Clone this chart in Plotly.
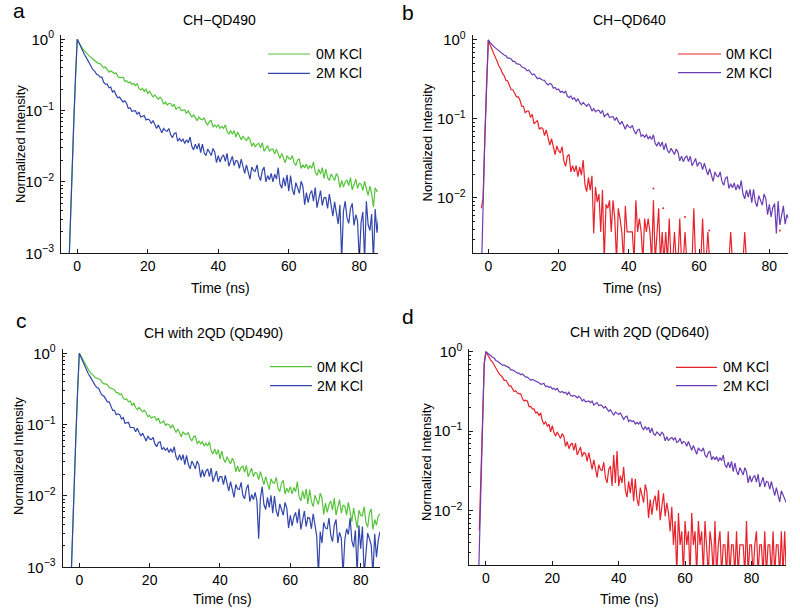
import numpy as np
import plotly.graph_objects as go

# acquisition time bins (ns); panel d was recorded on a slightly longer window
time_abc = np.arange(-4.5, 85.51, 0.5)
time_d = np.arange(-5.0, 90.51, 0.5)

# decay curves, stored as log10(normalized intensity)
# None = no counts in the bin
a_0m_log = [
    None, None, None, None, -3.4, -2.6, -1.9, -1.2, -0.55, 0.0,
    -0.05, -0.10, -0.13, -0.16, -0.19, -0.21, -0.24, -0.26, -0.28, -0.30,
    -0.31, -0.34, -0.34, -0.37, -0.40, -0.39, -0.42, -0.46, -0.44, -0.46,
    -0.48, -0.47, -0.52, -0.54, -0.53, -0.53, -0.59, -0.58, -0.61, -0.60,
    -0.63, -0.62, -0.65, -0.62, -0.69, -0.71, -0.69, -0.73, -0.70, -0.76,
    -0.73, -0.78, -0.81, -0.78, -0.81, -0.84, -0.81, -0.84, -0.91, -0.88,
    -0.92, -0.90, -0.90, -0.94, -0.91, -0.98, -0.96, -0.95, -1.00, -0.99,
    -0.99, -1.04, -1.00, -1.05, -1.09, -1.06, -1.10, -1.14, -1.09, -1.12,
    -1.13, -1.10, -1.17, -1.20, -1.15, -1.14, -1.23, -1.20, -1.23, -1.20,
    -1.25, -1.22, -1.25, -1.20, -1.29, -1.33, -1.28, -1.33, -1.28, -1.37,
    -1.30, -1.37, -1.41, -1.36, -1.39, -1.42, -1.37, -1.40, -1.50, -1.45,
    -1.51, -1.47, -1.46, -1.52, -1.45, -1.57, -1.53, -1.49, -1.57, -1.54,
    -1.54, -1.61, -1.54, -1.60, -1.67, -1.60, -1.67, -1.73, -1.63, -1.67,
    -1.68, -1.63, -1.73, -1.77, -1.69, -1.68, -1.81, -1.76, -1.80, -1.75,
    -1.82, -1.77, -1.81, -1.72, -1.86, -1.91, -1.82, -1.89, -1.80, -1.95,
    -1.82, -1.94, -1.98, -1.89, -1.93, -1.98, -1.88, -1.93, -2.08, -1.98,
    -2.07, -2.00, -1.97, -2.05, -1.94, -2.11, -2.04, -1.96, -2.09, -2.02,
    -2.03, -2.12, -1.99, -2.09, -2.19, -2.06, -2.16, -2.35, -2.08, -2.13,
    -2.12,
]
a_2m_log = [
    None, None, None, None, -3.4, -2.6, -1.9, -1.2, -0.55, 0.0,
    -0.05, -0.11, -0.15, -0.21, -0.25, -0.30, -0.35, -0.38, -0.43, -0.45,
    -0.49, -0.50, -0.53, -0.53, -0.60, -0.63, -0.63, -0.68, -0.67, -0.74,
    -0.72, -0.78, -0.82, -0.81, -0.84, -0.88, -0.86, -0.90, -0.97, -0.96,
    -1.01, -1.00, -1.00, -1.05, -1.02, -1.09, -1.08, -1.07, -1.13, -1.12,
    -1.13, -1.18, -1.14, -1.19, -1.25, -1.20, -1.26, -1.31, -1.25, -1.28,
    -1.29, -1.25, -1.34, -1.38, -1.32, -1.31, -1.43, -1.39, -1.43, -1.40,
    -1.46, -1.41, -1.45, -1.37, -1.50, -1.55, -1.47, -1.54, -1.46, -1.59,
    -1.47, -1.59, -1.63, -1.54, -1.58, -1.63, -1.53, -1.58, -1.73, -1.63,
    -1.72, -1.65, -1.62, -1.71, -1.60, -1.78, -1.71, -1.64, -1.77, -1.70,
    -1.71, -1.81, -1.68, -1.78, -1.88, -1.76, -1.86, -1.96, -1.79, -1.84,
    -1.85, -1.76, -1.92, -1.98, -1.84, -1.79, -2.00, -1.91, -1.97, -1.88,
    -2.00, -1.89, -1.96, -1.80, -2.03, -2.09, -1.94, -2.06, -1.90, -2.13,
    -1.91, -2.10, -2.18, -2.01, -2.08, -2.16, -1.99, -2.06, -2.32, -2.15,
    -2.29, -2.17, -2.12, -2.27, -2.08, -2.36, -2.24, -2.12, -2.33, -2.22,
    -2.22, -2.37, -2.17, -2.33, -2.48, -2.28, -2.43, -2.59, -2.32, -3.10,
    -2.41, -2.27, -2.50, -2.58, -2.37, -2.30, -2.61, -2.46, -2.55, -3.10,
    -2.57, -2.42, -3.10, -2.27, -2.60, -2.68, -2.45, -3.10, -2.38, -2.71,
    -2.48,
]
b_0m_log = [
    None, None, None, None, None, -2.13, -2.0, -1.25, -0.55, 0.0,
    -0.06, -0.12, -0.18, -0.22, -0.27, -0.33, -0.36, -0.42, -0.45, -0.51,
    -0.52, -0.59, -0.63, -0.63, -0.67, -0.72, -0.72, -0.76, -0.84, -0.84,
    -0.92, -0.90, -0.90, -0.98, -0.94, -1.06, -1.04, -1.02, -1.13, -1.11,
    -1.12, -1.21, -1.14, -1.23, -1.33, -1.25, -1.35, -1.45, -1.34, -1.40,
    -1.43, -1.35, -1.53, -1.60, -1.47, -1.45, -1.67, -1.59, -1.67, -1.59,
    -1.73, -1.61, -1.71, -1.52, -1.83, -1.92, -1.74, -1.90, -1.72, -2.45,
    -1.86, -2.05, -1.95, -2.43, -1.90, -2.80, -2.08, -2.13, -2.03, -2.43,
    -2.03, -2.26, -2.80, -2.13, -2.26, -2.43, -2.80, -2.10, -2.43, -2.43,
    -2.43, -2.43, -2.80, -2.03, -2.43, -2.26, -2.43, -2.80, -2.26, -2.43,
    -2.26, -2.43, -2.80, -2.03, -2.80, -2.43, -2.13, -2.80, -2.43, -2.80,
    -2.43, -2.80, -2.26, -2.80, -2.80, -2.43, -2.80, -2.80, -2.26, -2.80,
    -2.80, -2.43, -2.80, -2.80, -2.80, -2.80, -2.13, -2.80, -2.80, -2.80,
    -2.80, -2.26, -2.80, -2.80, -2.43, -2.80, -2.80, -2.80, -2.80, -2.80,
    -2.80, -2.80, -2.80, -2.80, -2.80, -2.80, -2.80, -2.43, -2.80, -2.80,
    -2.80, -2.80, -2.80, -2.80, -2.80, -2.43, -2.80, -2.80, -2.80, -2.80,
    -2.80, -2.80, -2.80, -2.80, -2.80, -2.80, -2.80, -2.80, -2.80, -2.80,
    -2.80, -2.80, -2.80, -2.80, -2.80, -2.80, -2.80, -2.80, -2.80, -2.80,
    -2.80,
]
b_2m_log = [
    None, None, None, None, None, -3.0, -2.0, -1.25, -0.55, 0.0,
    -0.03, -0.06, -0.08, -0.10, -0.12, -0.14, -0.15, -0.17, -0.19, -0.20,
    -0.23, -0.23, -0.24, -0.27, -0.27, -0.30, -0.31, -0.31, -0.34, -0.35,
    -0.36, -0.39, -0.38, -0.41, -0.44, -0.43, -0.46, -0.49, -0.48, -0.50,
    -0.51, -0.51, -0.55, -0.57, -0.55, -0.56, -0.61, -0.60, -0.63, -0.62,
    -0.66, -0.65, -0.67, -0.65, -0.71, -0.73, -0.71, -0.75, -0.73, -0.78,
    -0.74, -0.79, -0.82, -0.79, -0.81, -0.84, -0.81, -0.84, -0.90, -0.87,
    -0.91, -0.89, -0.89, -0.93, -0.89, -0.97, -0.95, -0.93, -0.98, -0.97,
    -0.97, -1.02, -0.98, -1.03, -1.07, -1.03, -1.08, -1.13, -1.07, -1.10,
    -1.11, -1.08, -1.15, -1.19, -1.14, -1.13, -1.22, -1.20, -1.23, -1.20,
    -1.25, -1.22, -1.26, -1.20, -1.31, -1.34, -1.29, -1.35, -1.29, -1.39,
    -1.31, -1.40, -1.43, -1.37, -1.41, -1.45, -1.38, -1.42, -1.53, -1.47,
    -1.54, -1.49, -1.47, -1.54, -1.47, -1.59, -1.55, -1.50, -1.60, -1.55,
    -1.56, -1.64, -1.56, -1.63, -1.71, -1.63, -1.71, -1.79, -1.67, -1.72,
    -1.73, -1.67, -1.79, -1.84, -1.75, -1.73, -1.88, -1.82, -1.87, -1.81,
    -1.90, -1.83, -1.89, -1.78, -1.95, -2.01, -1.90, -1.99, -1.89, -2.06,
    -1.89, -2.05, -2.11, -1.97, -2.03, -2.09, -1.95, -2.01, -2.21, -2.08,
    -2.24, -2.12, -2.07, -2.45, -2.04, -2.34, -2.22, -2.10, -2.33, -2.21,
    -2.26,
]
# single-bin points of the 0M curve in panel b (drawn as dots)
b_0m_dots_t = [47.0, 49.8, 56.0, 62.9, 83.0]
b_0m_dots_log = [-1.88, -2.13, -2.24, -2.41, -2.41]

c_0m_log = [
    None, None, None, None, -3.4, -2.6, -1.9, -1.2, -0.55, 0.0,
    -0.04, -0.09, -0.14, -0.18, -0.22, -0.26, -0.28, -0.31, -0.34, -0.35,
    -0.37, -0.37, -0.41, -0.43, -0.43, -0.44, -0.48, -0.49, -0.51, -0.51,
    -0.55, -0.55, -0.58, -0.57, -0.63, -0.65, -0.64, -0.68, -0.67, -0.73,
    -0.70, -0.76, -0.79, -0.76, -0.79, -0.82, -0.80, -0.83, -0.89, -0.87,
    -0.91, -0.89, -0.89, -0.94, -0.91, -0.98, -0.97, -0.95, -1.01, -0.99,
    -1.00, -1.05, -1.00, -1.06, -1.11, -1.06, -1.11, -1.17, -1.10, -1.13,
    -1.14, -1.11, -1.19, -1.23, -1.17, -1.16, -1.27, -1.23, -1.27, -1.24,
    -1.30, -1.26, -1.30, -1.24, -1.37, -1.41, -1.34, -1.42, -1.35, -1.48,
    -1.37, -1.48, -1.53, -1.45, -1.50, -1.55, -1.47, -1.52, -1.66, -1.58,
    -1.66, -1.60, -1.58, -1.67, -1.57, -1.73, -1.67, -1.61, -1.73, -1.67,
    -1.68, -1.77, -1.66, -1.75, -1.84, -1.73, -1.82, -1.91, -1.76, -1.81,
    -1.82, -1.74, -1.89, -1.94, -1.82, -1.78, -1.97, -1.89, -1.95, -1.87,
    -1.97, -1.88, -1.94, -1.80, -2.01, -2.07, -1.93, -2.04, -1.90, -2.11,
    -1.91, -2.08, -2.15, -1.99, -2.06, -2.12, -1.96, -2.03, -2.26, -2.10,
    -2.23, -2.12, -2.07, -2.20, -2.03, -2.27, -2.16, -2.05, -2.24, -2.13,
    -2.14, -2.27, -2.09, -2.22, -2.36, -2.17, -2.31, -2.45, -2.20, -2.27,
    -2.28, -2.15, -2.37, -2.44, -2.24, -2.18, -2.47, -2.33, -2.41, -2.28,
    -2.25,
]
c_2m_log = [
    None, None, None, None, -3.4, -2.6, -1.9, -1.2, -0.55, 0.0,
    -0.06, -0.12, -0.18, -0.22, -0.28, -0.32, -0.37, -0.40, -0.45, -0.48,
    -0.49, -0.55, -0.59, -0.60, -0.64, -0.68, -0.68, -0.73, -0.80, -0.80,
    -0.86, -0.85, -0.86, -0.92, -0.90, -0.98, -0.98, -0.97, -1.04, -1.04,
    -1.04, -1.10, -1.05, -1.11, -1.16, -1.12, -1.17, -1.23, -1.16, -1.20,
    -1.21, -1.18, -1.27, -1.31, -1.25, -1.24, -1.35, -1.32, -1.36, -1.33,
    -1.39, -1.34, -1.39, -1.31, -1.45, -1.50, -1.42, -1.50, -1.42, -1.56,
    -1.43, -1.56, -1.62, -1.51, -1.56, -1.62, -1.51, -1.56, -1.74, -1.63,
    -1.73, -1.65, -1.62, -1.73, -1.61, -1.80, -1.73, -1.65, -1.80, -1.73,
    -1.73, -1.84, -1.71, -1.82, -1.93, -1.80, -1.91, -2.02, -1.84, -1.90,
    -1.91, -1.81, -1.99, -2.04, -1.90, -1.84, -2.08, -1.98, -2.05, -1.95,
    -2.07, -2.60, -2.03, -1.87, -2.12, -2.19, -2.02, -2.16, -1.99, -2.24,
    -2.00, -2.21, -2.29, -2.11, -2.19, -2.27, -2.09, -2.17, -2.45, -2.27,
    -2.42, -2.29, -2.23, -2.38, -2.18, -2.47, -2.34, -2.21, -2.43, -2.30,
    -2.31, -2.46, -2.25, -2.40, -2.56, -3.10, -2.50, -2.66, -2.37, -2.45,
    -2.46, -2.31, -2.55, -2.64, -2.41, -2.33, -2.66, -2.51, -2.59, -3.10,
    -2.61, -2.46, -2.54, -2.31, -2.63, -2.72, -2.48, -3.10, -2.41, -2.74,
    -2.43, -3.10, -2.76, -2.52, -2.60, -2.69, -3.10, -2.53, -2.86, -2.62,
    -2.50,
]
d_0m_log = [
    None, None, None, None, None, None, -2.25, -1.6, -0.8, -0.15,
    0.0, -0.04, -0.07, -0.11, -0.13, -0.17, -0.21, -0.24, -0.28, -0.30,
    -0.32, -0.36, -0.36, -0.39, -0.43, -0.43, -0.47, -0.50, -0.49, -0.52,
    -0.53, -0.53, -0.59, -0.62, -0.61, -0.62, -0.69, -0.69, -0.72, -0.72,
    -0.77, -0.76, -0.80, -0.77, -0.87, -0.91, -0.88, -0.94, -0.91, -1.01,
    -0.93, -1.02, -1.06, -1.01, -1.05, -1.09, -1.03, -1.07, -1.19, -1.13,
    -1.22, -1.17, -1.15, -1.24, -1.15, -1.30, -1.25, -1.20, -1.32, -1.27,
    -1.28, -1.38, -1.27, -1.37, -1.48, -1.36, -1.47, -1.58, -1.42, -1.48,
    -1.50, -1.39, -1.58, -1.65, -1.48, -1.44, -1.69, -1.30, -1.65, -1.25,
    -1.69, -1.56, -1.65, -1.45, -1.74, -1.83, -1.63, -1.78, -1.59, -1.88,
    -1.60, -1.85, -1.94, -1.71, -1.80, -1.90, -1.67, -1.76, -2.09, -1.86,
    -2.05, -1.88, -1.81, -2.00, -1.74, -2.12, -1.95, -1.78, -2.07, -1.90,
    -2.03, -2.26, -1.95, -2.43, -2.13, -2.80, -2.03, -2.43, -2.26, -2.80,
    -2.13, -2.43, -2.26, -2.80, -2.03, -2.43, -2.26, -2.80, -2.13, -2.43,
    -2.26, -2.80, -2.13, -2.43, -2.80, -2.26, -2.43, -2.80, -2.13, -2.80,
    -2.43, -2.26, -2.80, -2.43, -2.43, -2.80, -2.26, -2.80, -2.43, -2.43,
    -2.80, -2.26, -2.80, -2.43, -2.43, -2.43, -2.80, -2.13, -2.80, -2.43,
    -2.43, -2.80, -2.43, -2.26, -2.80, -2.43, -2.43, -2.80, -2.26, -2.80,
    -2.43, -2.43, -2.80, -2.26, -2.80, -2.43, -2.43, -2.80, -2.26, -2.80,
    -2.26, -2.80,
]
d_2m_log = [
    None, None, None, None, None, -3.3, -2.5, -1.6, -0.8, -0.15,
    0.0, -0.02, -0.04, -0.05, -0.07, -0.08, -0.11, -0.12, -0.14, -0.15,
    -0.17, -0.17, -0.18, -0.20, -0.20, -0.23, -0.23, -0.24, -0.26, -0.27,
    -0.27, -0.29, -0.28, -0.30, -0.32, -0.32, -0.34, -0.36, -0.35, -0.36,
    -0.37, -0.37, -0.39, -0.41, -0.40, -0.40, -0.44, -0.43, -0.45, -0.44,
    -0.47, -0.46, -0.48, -0.46, -0.50, -0.51, -0.50, -0.52, -0.51, -0.54,
    -0.51, -0.55, -0.56, -0.55, -0.56, -0.58, -0.56, -0.58, -0.62, -0.60,
    -0.63, -0.62, -0.62, -0.64, -0.62, -0.67, -0.66, -0.64, -0.68, -0.67,
    -0.68, -0.71, -0.69, -0.72, -0.75, -0.73, -0.76, -0.80, -0.76, -0.78,
    -0.79, -0.77, -0.82, -0.85, -0.82, -0.81, -0.88, -0.86, -0.88, -0.87,
    -0.91, -0.89, -0.91, -0.88, -0.95, -0.98, -0.94, -0.98, -0.95, -1.02,
    -0.96, -1.03, -1.05, -1.01, -1.03, -1.06, -1.01, -1.04, -1.12, -1.07,
    -1.12, -1.09, -1.08, -1.11, -1.08, -1.14, -1.13, -1.09, -1.16, -1.13,
    -1.14, -1.19, -1.13, -1.19, -1.24, -1.18, -1.24, -1.29, -1.21, -1.24,
    -1.25, -1.21, -1.30, -1.33, -1.27, -1.25, -1.36, -1.32, -1.36, -1.32,
    -1.38, -1.33, -1.37, -1.30, -1.42, -1.46, -1.39, -1.46, -1.38, -1.51,
    -1.40, -1.50, -1.55, -1.46, -1.50, -1.55, -1.46, -1.51, -1.65, -1.56,
    -1.64, -1.58, -1.56, -1.64, -1.54, -1.70, -1.64, -1.58, -1.70, -1.63,
    -1.64, -1.73, -1.63, -1.72, -1.81, -1.71, -1.80, -1.89, -1.75, -1.80,
    -1.86, -1.90,
]

panel_titles = ["CH\u2212QD490", "CH\u2212QD640", "CH with 2QD (QD490)", "CH with 2QD (QD640)"]
panel_letters = ["a", "b", "c", "d"]
series_names = ["0M KCl", "2M KCl"]
x_ticks = [0, 20, 40, 60, 80]
y_ticks = [1e-3, 1e-2, 1e-1, 1]
y_ticktext = ["10<sup>\u22123</sup>", "10<sup>\u22122</sup>", "10<sup>\u22121</sup>", "10<sup>0</sup>"]

GREEN = "#56c43a"
BLUE = "#3346ab"
RED = "#e8222b"
PURPLE = "#6a3db3"
AXIS = "#1a1a1a"
FONT = "Liberation Sans"

W, H = 800, 608


def to_intensity(logs):
    """log10 values -> normalized intensity"""
    return [None if v is None else 10 ** v for v in logs]


def px(x, y):
    """pixel position -> paper coordinates"""
    return x / W, 1 - y / H


def text(x, y, s, size, xanchor="center", **kw):
    """annotation centred on a page pixel"""
    xp, yp = px(x, y)
    return dict(x=xp, y=yp, xref="paper", yref="paper", text=s, showarrow=False,
                xanchor=xanchor, yanchor="middle", borderpad=0,
                font=dict(family=FONT, size=size, color="black"), **kw)


# layout of each panel, in pixels of the 800x608 page
panels = [
    dict(t=time_abc, s0=a_0m_log, s2=a_2m_log, c0=GREEN, c2=BLUE,
         box=(61, 378, 35, 253.3), xr=[-4.6, 85.3], yr=[-3, 0.06],
         title=(219.5, 20), letter=(19, 11), ylab=(21, 144), xlab=(220, 288),
         leg=(268, 310, 315, 54, 73.3)),
    dict(t=time_abc, s0=b_0m_log, s2=b_2m_log, c0=RED, c2=PURPLE,
         box=(472.7, 788.3, 35, 253.3), xr=[-4.45, 85.4], yr=[-2.70, 0.063],
         title=(629, 20), letter=(408, 12), ylab=(427, 142.5), xlab=(632, 288),
         leg=(678, 721, 725, 54, 72.7)),
    dict(t=time_abc, s0=c_0m_log, s2=c_2m_log, c0=GREEN, c2=BLUE,
         box=(62.7, 380, 349.3, 567.3), xr=[-4.72, 85.5], yr=[-3, 0.056],
         title=(213, 333), letter=(21, 320), ylab=(18, 456), xlab=(222, 599),
         leg=(270, 312, 316, 366.7, 385.7)),
    dict(t=time_d, s0=d_0m_log, s2=d_2m_log, c0=RED, c2=PURPLE,
         box=(469.3, 786, 349.3, 565), xr=[-5.0, 90.4], yr=[-2.683, 0.03],
         title=(639, 332), letter=(408, 316), ylab=(427, 462), xlab=(629, 599),
         leg=(676, 717, 722, 367.3, 385.7)),
]

minor_vals = [m * 10 ** e for e in (-3, -2, -1) for m in range(2, 10)]

fig = go.Figure()
annotations = []
shapes = []

for i, p in enumerate(panels):
    n = "" if i == 0 else str(i + 1)
    xa, ya = "x" + n, "y" + n

    fig.add_trace(go.Scatter(x=p["t"], y=to_intensity(p["s0"]), mode="lines", name=series_names[0],
                             line=dict(color=p["c0"], width=1.2), xaxis=xa, yaxis=ya,
                             showlegend=False))
    if i == 1:
        fig.add_trace(go.Scatter(x=b_0m_dots_t, y=to_intensity(b_0m_dots_log), mode="markers",
                                 marker=dict(color=RED, size=2), xaxis=xa, yaxis=ya, showlegend=False))
    fig.add_trace(go.Scatter(x=p["t"], y=to_intensity(p["s2"]), mode="lines", name=series_names[1],
                             line=dict(color=p["c2"], width=1.2), xaxis=xa, yaxis=ya,
                             showlegend=False))

    x0, x1, y0, y1 = p["box"]
    fig.update_layout(**{
        "xaxis" + n: dict(domain=[x0 / W, x1 / W], anchor=ya, range=p["xr"], tickvals=x_ticks,
                          showline=True, linecolor=AXIS, linewidth=1, ticks="inside", ticklen=4,
                          tickcolor=AXIS, showgrid=False, zeroline=False, ticklabelstandoff=0,
                          automargin=False,
                          tickfont=dict(family=FONT, size=14, color="black")),
        "yaxis" + n: dict(domain=[1 - y1 / H, 1 - y0 / H], anchor=xa, type="log", range=p["yr"],
                          tickvals=y_ticks, ticktext=y_ticktext, showline=True, linecolor=AXIS,
                          linewidth=1, ticks="inside", ticklen=4, tickcolor=AXIS, showgrid=False,
                          zeroline=False, ticklabelstandoff=3, automargin=False,
                          tickfont=dict(family=FONT, size=15, color="black"),
                          minor=dict(tickvals=minor_vals, ticks="inside", ticklen=2,
                                     tickcolor=AXIS, showgrid=False)),
    })

    annotations.append(text(*p["title"], panel_titles[i], 14))
    annotations.append(text(*p["letter"], panel_letters[i], 21))
    annotations.append(text(*p["ylab"], "Normalized Intensity", 13, textangle=-90))
    annotations.append(text(*p["xlab"], "Time (ns)", 14))

    # legend drawn by hand to match the compact MATLAB legend
    lx0, lx1, ltx, ly0, ly1 = p["leg"]
    for name, color, yrow in ((series_names[0], p["c0"], ly0), (series_names[1], p["c2"], ly1)):
        sx0, sy = px(lx0, yrow)
        sx1, _ = px(lx1, yrow)
        shapes.append(dict(type="line", xref="paper", yref="paper", x0=sx0, x1=sx1, y0=sy, y1=sy,
                           line=dict(color=color, width=1.2)))
        annotations.append(text(ltx, yrow, name, 14, xanchor="left"))

fig.update_layout(
    width=W, height=H,
    margin=dict(l=0, r=0, t=0, b=0, autoexpand=False),
    paper_bgcolor="white", plot_bgcolor="white",
    showlegend=False,
    font=dict(family=FONT, color="black"),
    annotations=annotations,
    shapes=shapes,
)

# the page's default 8px body margin would shift the whole figure
fig.write_html("out.html", config={"displayModeBar": False},
               post_script="document.body.style.margin = '0';")
